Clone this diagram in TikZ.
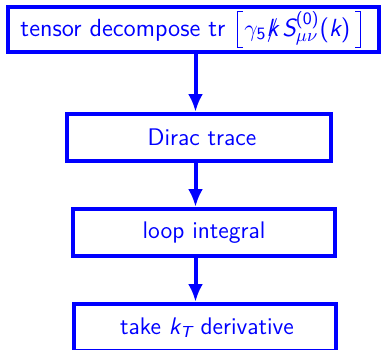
\documentclass[tikz,border=0pt]{standalone}
\usepackage{amsmath}
\usetikzlibrary{arrows.meta}
\newcommand\sfit[1]{\text{\sffamily\slshape #1}}
\newcommand\sfup[1]{\text{\sffamily #1}}
\newcommand\kslash{\text{\ooalign{\hidewidth$/$\hidewidth\cr\sffamily\slshape k}}}
\newcommand\lbrk{\makebox[3.5pt][l]{\vrule width .5pt height 12.5pt depth 6pt\rlap{\raisebox{12pt}{\rule{2.5pt}{.5pt}}}\rlap{\raisebox{-6pt}{\rule{2.5pt}{.5pt}}}}}
\newcommand\rbrk{\makebox[3.5pt][r]{\llap{\raisebox{12pt}{\rule{2.5pt}{.5pt}}}\llap{\raisebox{-6pt}{\rule{2.5pt}{.5pt}}}\vrule width .5pt height 12.5pt depth 6pt}}
\begin{document}
\begin{tikzpicture}[x=0.5pt,y=-0.5pt,
  box/.style={draw=blue,line width=2pt,text=blue,inner sep=0pt,
    font=\sffamily\fontsize{12}{14}\selectfont,anchor=center},
  flow/.style={draw=blue,line width=2pt,-{Latex[length=9pt,width=7.5pt]}}]
\useasboundingbox (0,0) rectangle (381,349);
\node[box,minimum width=185.5pt,minimum height=22.5pt,font=\sffamily\fontsize{12.4}{14}\selectfont] (b1) at (193.5,29.5)
  {tensor decompose tr\hspace{6pt}\lbrk$\gamma_{\sfup{5}}\kslash\, \sfit{S}^{\sfup{(0)}}_{\mu\nu}\sfup{(}\sfit{k}\sfup{)}$\,\rbrk\hspace*{2.5pt}};
\node[box,minimum width=132pt,minimum height=23.5pt] (b2) at (199,137.5) {\hspace*{3pt}Dirac trace};
\node[box,minimum width=131pt,minimum height=23.5pt] (b3) at (204,232.5) {loop integral};
\node[box,minimum width=131pt,minimum height=23.5pt] (b4) at (205,327.5) {\hspace*{2pt}take $\sfit{k}_{\sfit{T}}$ derivative};
\coordinate (ax) at (195.5,0);
\draw[flow] (b1.south -| ax) -- (b2.north -| ax);
\draw[flow] (b2.south -| ax) -- (b3.north -| ax);
\draw[flow] (b3.south -| ax) -- (b4.north -| ax);
\end{tikzpicture}
\end{document}
